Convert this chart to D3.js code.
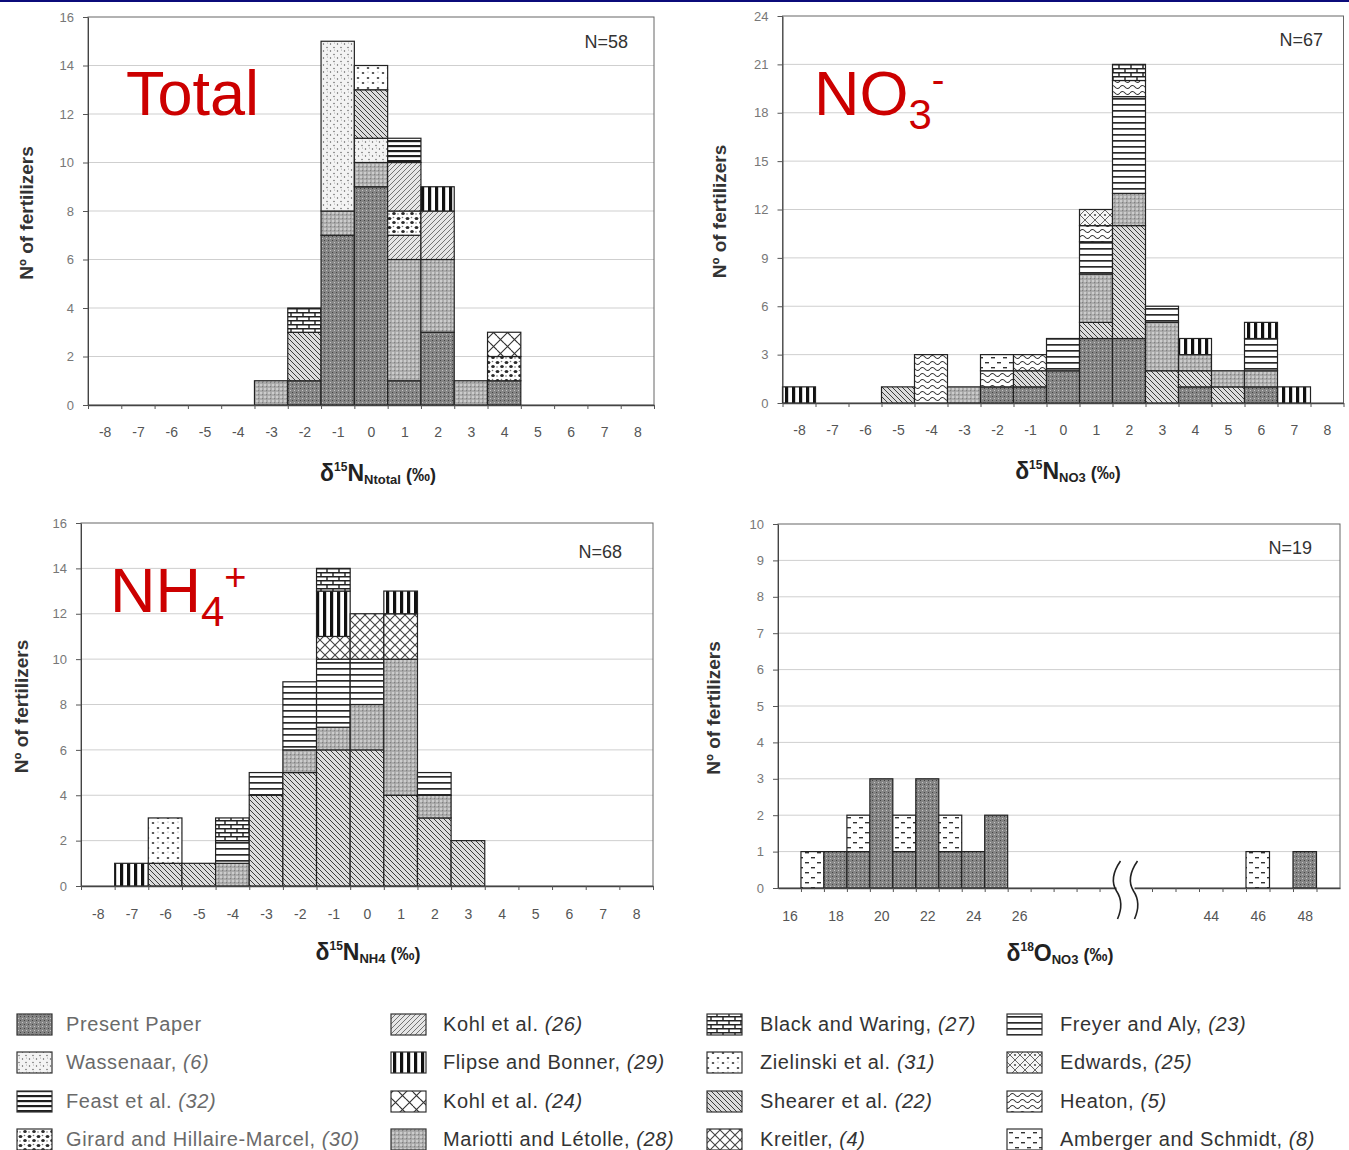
<!DOCTYPE html>
<html>
<head>
<meta charset="utf-8">
<script src="https://cdn.jsdelivr.net/npm/d3@7"></script>
<style>
  body { margin: 0; background: #fff; }
  svg { display: block; font-family: "Liberation Sans", Arial, sans-serif; }
</style>
</head>
<body>
<svg id="chart" width="1349" height="1150"></svg>
<script>
// bins of the three delta15N histograms
var binsN = d3.range(-8, 9);

// sources, in legend order (column by column)
var sourceKeys = ["present", "wassenaar", "feast", "girard",
                  "kohl26", "flipse", "kohl24", "mariotti",
                  "black", "zielinski", "shearer", "kreitler",
                  "freyer", "edwards", "heaton", "amberger"];
var sourceNames = ["Present Paper", "Wassenaar, ", "Feast et al. ", "Girard and Hillaire-Marcel, ",
                   "Kohl et al. ", "Flipse and Bonner, ", "Kohl et al. ", "Mariotti and Létolle, ",
                   "Black and Waring, ", "Zielinski et al. ", "Shearer et al. ", "Kreitler, ",
                   "Freyer and Aly, ", "Edwards, ", "Heaton, ", "Amberger and Schmidt, "];
var sourceRefs = ["", "(6)", "(32)", "(30)",
                  "(26)", "(29)", "(24)", "(28)",
                  "(27)", "(31)", "(22)", "(4)",
                  "(23)", "(25)", "(5)", "(8)"];

// [bin, source, count], stacked bottom to top
var totalRows = [
  [-3, "mariotti", 1],
  [-2, "present", 1], [-2, "shearer", 2], [-2, "black", 1],
  [-1, "present", 7], [-1, "mariotti", 1], [-1, "wassenaar", 7],
  [0, "present", 9], [0, "mariotti", 1], [0, "wassenaar", 1], [0, "shearer", 2], [0, "zielinski", 1],
  [1, "present", 1], [1, "mariotti", 5], [1, "kohl26", 1], [1, "girard", 1], [1, "kohl26", 2], [1, "feast", 1],
  [2, "present", 3], [2, "mariotti", 3], [2, "kohl26", 2], [2, "flipse", 1],
  [3, "mariotti", 1],
  [4, "present", 1], [4, "girard", 1], [4, "kohl24", 1]
];

var no3Rows = [
  [-8, "flipse", 1],
  [-5, "shearer", 1],
  [-4, "heaton", 3],
  [-3, "mariotti", 1],
  [-2, "present", 1], [-2, "heaton", 1], [-2, "amberger", 1],
  [-1, "present", 1], [-1, "shearer", 1], [-1, "heaton", 1],
  [0, "present", 2], [0, "freyer", 2],
  [1, "present", 4], [1, "shearer", 1], [1, "mariotti", 3], [1, "freyer", 2], [1, "heaton", 1], [1, "edwards", 1],
  [2, "present", 4], [2, "shearer", 7], [2, "mariotti", 2], [2, "freyer", 6], [2, "heaton", 1], [2, "black", 1],
  [3, "shearer", 2], [3, "mariotti", 3], [3, "freyer", 1],
  [4, "present", 1], [4, "shearer", 1], [4, "mariotti", 1], [4, "flipse", 1],
  [5, "shearer", 1], [5, "mariotti", 1],
  [6, "present", 1], [6, "mariotti", 1], [6, "freyer", 2], [6, "flipse", 1],
  [7, "flipse", 1]
];

var nh4Rows = [
  [-7, "flipse", 1],
  [-6, "shearer", 1], [-6, "zielinski", 2],
  [-5, "shearer", 1],
  [-4, "mariotti", 1], [-4, "freyer", 1], [-4, "black", 1],
  [-3, "shearer", 4], [-3, "freyer", 1],
  [-2, "shearer", 5], [-2, "mariotti", 1], [-2, "freyer", 3],
  [-1, "shearer", 6], [-1, "mariotti", 1], [-1, "freyer", 3], [-1, "kreitler", 1], [-1, "flipse", 2], [-1, "black", 1],
  [0, "shearer", 6], [0, "mariotti", 2], [0, "freyer", 2], [0, "kreitler", 2],
  [1, "shearer", 4], [1, "mariotti", 6], [1, "kreitler", 2], [1, "flipse", 1],
  [2, "shearer", 3], [2, "mariotti", 1], [2, "freyer", 1],
  [3, "shearer", 2]
];

var o18Rows = [
  [17, "amberger", 1],
  [18, "present", 1],
  [19, "present", 1], [19, "amberger", 1],
  [20, "present", 3],
  [21, "present", 1], [21, "amberger", 1],
  [22, "present", 3],
  [23, "present", 1], [23, "amberger", 1],
  [24, "present", 1],
  [25, "present", 2],
  [46, "amberger", 1],
  [48, "present", 1]
];
var o18Ticks = [16, 18, 20, 22, 24, 26, 44, 46, 48];

var svg = d3.select("#chart");

// thin navy rule at the very top
svg.append("rect").attr("width", 1349).attr("height", 2).attr("fill", "#0b0b7a");

// ---------- fill patterns ----------
var defs = svg.append("defs");
function pat(id, w, h, bg) {
  var p = defs.append("pattern").attr("id", "p-" + id)
    .attr("patternUnits", "userSpaceOnUse").attr("width", w).attr("height", h);
  p.append("rect").attr("width", w).attr("height", h).attr("fill", bg);
  return p;
}
var p;
p = pat("present", 4, 4, "#858585");
p.append("rect").attr("width", 1).attr("height", 1).attr("fill", "#444");
p.append("rect").attr("x", 2).attr("y", 2).attr("width", 1).attr("height", 1).attr("fill", "#c4c4c4");

p = pat("wassenaar", 7, 7, "#f3f3f3");
p.append("circle").attr("cx", 1.5).attr("cy", 2).attr("r", 0.7).attr("fill", "#555");
p.append("circle").attr("cx", 5).attr("cy", 5.5).attr("r", 0.7).attr("fill", "#555");
p.append("circle").attr("cx", 5.5).attr("cy", 1).attr("r", 0.5).attr("fill", "#999");

p = pat("feast", 5, 5, "#fff");
p.append("rect").attr("width", 5).attr("height", 2.2).attr("fill", "#1e1e1e");

p = pat("girard", 9, 9, "#fff");
p.append("ellipse").attr("cx", 2.5).attr("cy", 2.5).attr("rx", 1.9).attr("ry", 1.5).attr("fill", "#2a2a2a");
p.append("ellipse").attr("cx", 7).attr("cy", 6.5).attr("rx", 1.8).attr("ry", 1.5).attr("fill", "#2a2a2a");
p.append("circle").attr("cx", 6.5).attr("cy", 1.5).attr("r", 0.8).attr("fill", "#777");
p.append("circle").attr("cx", 2).attr("cy", 7).attr("r", 0.8).attr("fill", "#777");

p = pat("kohl26", 5, 5, "#e6e6e6");
p.append("path").attr("d", "M0,5L5,0M-1,1L1,-1M4,6L6,4").attr("stroke", "#666").attr("stroke-width", 0.9);

p = pat("flipse", 7, 7, "#fff");
p.append("rect").attr("x", 1).attr("width", 3.2).attr("height", 7).attr("fill", "#111");

p = pat("kohl24", 14, 14, "#fff");
p.append("path").attr("d", "M0,14L14,0M-1,1L1,-1M13,15L15,13M0,7L7,14M7,0L14,7")
  .attr("stroke", "#333").attr("stroke-width", 1.1).attr("fill", "none");

p = pat("mariotti", 4, 4, "#acacac");
p.append("rect").attr("x", 0.3).attr("y", 0.3).attr("width", 1.4).attr("height", 1.4).attr("fill", "#eee");
p.append("rect").attr("x", 2.2).attr("y", 2.2).attr("width", 1).attr("height", 1).attr("fill", "#666");

p = pat("black", 12, 8, "#fff");
p.append("path").attr("d", "M0,0.7H12M0,4.7H12M3,0.7V4.7M9,4.7V8.7M9,-3.3V0.7")
  .attr("stroke", "#222").attr("stroke-width", 1.4).attr("fill", "none");

p = pat("zielinski", 10, 10, "#fff");
p.append("ellipse").attr("cx", 3).attr("cy", 3).attr("rx", 1.3).attr("ry", 1).attr("fill", "#444");
p.append("ellipse").attr("cx", 8).attr("cy", 8).attr("rx", 1.3).attr("ry", 1).attr("fill", "#444");
p.append("circle").attr("cx", 8).attr("cy", 2).attr("r", 0.6).attr("fill", "#888");

p = pat("shearer", 5, 5, "#dcdcdc");
p.append("path").attr("d", "M0,0L5,5M-1,4L1,6M4,-1L6,1").attr("stroke", "#3c3c3c").attr("stroke-width", 1);

p = pat("kreitler", 10, 10, "#fff");
p.append("path").attr("d", "M0,0L10,10M10,0L0,10").attr("stroke", "#444").attr("stroke-width", 1.1);

p = pat("freyer", 6, 6, "#fff");
p.append("rect").attr("y", 2).attr("width", 6).attr("height", 1.7).attr("fill", "#2a2a2a");

p = pat("edwards", 10, 10, "#f6f6f6");
p.append("path").attr("d", "M5,0L10,5L5,10L0,5Z").attr("stroke", "#555").attr("stroke-width", 0.9).attr("fill", "none");
p.append("circle").attr("cx", 5).attr("cy", 5).attr("r", 1.1).attr("fill", "#555");

p = pat("heaton", 10, 6, "#fff");
p.append("path").attr("d", "M0,3Q2.5,0 5,3T10,3").attr("stroke", "#333").attr("stroke-width", 1.1).attr("fill", "none");

p = pat("amberger", 12, 10, "#fff");
p.append("rect").attr("x", 1).attr("y", 2).attr("width", 4).attr("height", 1.4).attr("fill", "#333");
p.append("rect").attr("x", 7).attr("y", 7).attr("width", 4).attr("height", 1.4).attr("fill", "#333");

// ---------- helpers ----------
function stack(rows) {
  var acc = new Map();
  return rows.map(function(r) {
    var b = acc.get(r[0]) || 0;
    acc.set(r[0], b + r[2]);
    return { bin: r[0], src: r[1], y0: b, y1: b + r[2] };
  });
}

function styleAxis(g, size, color) {
  g.attr("font-family", null).attr("font-size", null);
  g.selectAll("text").attr("font-size", size).attr("fill", color);
  g.selectAll("line").attr("stroke", "#555");
}

function drawPanel(o) {
  var g = svg.append("g");
  var y = d3.scaleLinear().domain([0, o.yMax]).range([o.bottom, o.top]);

  // grid
  g.selectAll("line.grid").data(o.yTicks.filter(function(d) { return d > 0 && d < o.yMax; }))
    .join("line").attr("class", "grid")
    .attr("x1", o.left).attr("x2", o.right)
    .attr("y1", function(d) { return y(d); }).attr("y2", function(d) { return y(d); })
    .attr("stroke", "#cfcfcf").attr("stroke-width", 1);

  // frame
  g.append("rect").attr("x", o.left).attr("y", o.top)
    .attr("width", o.right - o.left).attr("height", o.bottom - o.top)
    .attr("fill", "none").attr("stroke", "#666").attr("stroke-width", 1);

  // bars
  g.selectAll("rect.seg").data(stack(o.rows)).join("rect").attr("class", "seg")
    .attr("x", function(d) { return o.barL(d.bin); })
    .attr("width", function(d) { return o.barR(d.bin) - o.barL(d.bin); })
    .attr("y", function(d) { return y(d.y1); })
    .attr("height", function(d) { return y(d.y0) - y(d.y1); })
    .attr("fill", function(d) { return "url(#p-" + d.src + ")"; })
    .attr("stroke", "#222").attr("stroke-width", 1.2);

  // y axis
  var ya = g.append("g").attr("transform", "translate(" + o.left + ",0)")
    .call(d3.axisLeft(y).tickValues(o.yTicks).tickSize(5).tickPadding(9).tickSizeOuter(0));
  ya.select(".domain").attr("stroke", "#444");
  styleAxis(ya, 13, "#777");

  // x axis: tick marks on bin edges
  var xe = g.append("g").attr("transform", "translate(0," + o.bottom + ")")
    .call(d3.axisBottom(o.edgeScale).tickValues(o.edgeTicks).tickSize(4).tickSizeOuter(0).tickFormat(""));
  xe.select(".domain").attr("stroke", "#444").attr("stroke-width", 1.3);
  styleAxis(xe, 12, "#555");

  // x axis: labels
  var xl = g.append("g").attr("transform", "translate(0," + o.bottom + ")")
    .call(d3.axisBottom(o.labelScale).tickValues(o.labelTicks).tickSize(0).tickPadding(o.labelPad)
      .tickFormat(function(d) { return String(d); }));
  xl.select(".domain").remove();
  styleAxis(xl, 14, "#555");

  // N=
  g.append("text").attr("x", o.nx).attr("y", o.ny).attr("text-anchor", "end")
    .attr("font-size", 18).attr("fill", "#333").text(o.n);

  // y title
  g.append("text").attr("transform", "translate(" + o.yTitleX + "," + ((o.top + o.bottom) / 2 + 2) + ") rotate(-90)")
    .attr("text-anchor", "middle").attr("font-size", 19).attr("font-weight", "bold").attr("fill", "#333")
    .text("Nº of fertilizers");

  // x title
  var t = g.append("text").attr("x", o.xTitleX).attr("y", o.xTitleY).attr("text-anchor", "middle")
    .attr("font-weight", "bold").attr("fill", "#222").attr("font-size", 23);
  t.append("tspan").text("δ");
  t.append("tspan").attr("font-size", 12).attr("dy", -10).text(o.iso);
  t.append("tspan").attr("font-size", 23).attr("dy", 10).text(o.elem);
  t.append("tspan").attr("font-size", 13).attr("dy", 3).text(o.sub);
  t.append("tspan").attr("font-size", 18).attr("dy", -3).text(" (‰)");

  return g;
}

function bandPanel(rows, left, right) {
  var x = d3.scaleBand().domain(binsN).range([left, right]).padding(0);
  var e = d3.scaleLinear().domain([-8.5, 8.5]).range([left, right]);
  return {
    rows: rows, left: left, right: right,
    barL: function(b) { return x(b); },
    barR: function(b) { return x(b) + x.bandwidth(); },
    edgeScale: e, edgeTicks: d3.range(-8.5, 9, 1),
    labelScale: e, labelTicks: binsN
  };
}

// ---------- panels ----------
var pTotal = bandPanel(totalRows, 88, 654);
Object.assign(pTotal, { top: 17, bottom: 405, yMax: 16, yTicks: d3.range(0, 17, 2), labelPad: 22,
  n: "N=58", nx: 628, ny: 48, yTitleX: 33, xTitleX: 378, xTitleY: 481,
  iso: "15", elem: "N", sub: "Ntotal" });
drawPanel(pTotal);

var pNo3 = bandPanel(no3Rows, 782.5, 1343.5);
Object.assign(pNo3, { top: 16, bottom: 403, yMax: 24, yTicks: d3.range(0, 25, 3), labelPad: 22,
  n: "N=67", nx: 1323, ny: 46, yTitleX: 726, xTitleX: 1068, xTitleY: 479,
  iso: "15", elem: "N", sub: "NO3" });
drawPanel(pNo3);

var pNh4 = bandPanel(nh4Rows, 81, 653);
Object.assign(pNh4, { top: 523, bottom: 886, yMax: 16, yTicks: d3.range(0, 17, 2), labelPad: 23,
  n: "N=68", nx: 622, ny: 558, yTitleX: 28, xTitleX: 368, xTitleY: 960,
  iso: "15", elem: "N", sub: "NH4" });
drawPanel(pNh4);

// broken axis for delta18O
var xo = d3.scaleLinear().domain([15.5, 30.5, 40.5, 49.5]).range([778, 1122.5, 1128.5, 1340]);
var pO18 = {
  rows: o18Rows, left: 778, right: 1340, top: 524, bottom: 888, yMax: 10, yTicks: d3.range(0, 11, 1),
  barL: function(b) { return xo(b - 0.5); },
  barR: function(b) { return xo(b + 0.5); },
  edgeScale: xo, edgeTicks: d3.range(16.5, 30, 1).concat(d3.range(41.5, 49, 1)),
  labelScale: xo, labelTicks: o18Ticks, labelPad: 23,
  n: "N=19", nx: 1312, ny: 554, yTitleX: 720, xTitleX: 1060, xTitleY: 961,
  iso: "18", elem: "O", sub: "NO3"
};
var gO = drawPanel(pO18);

// axis break marks
var bx = (xo(30.5) + xo(40.5)) / 2;
gO.append("rect").attr("x", bx - 9).attr("y", pO18.bottom - 3).attr("width", 18).attr("height", 6).attr("fill", "#fff");
[-8, 9].forEach(function(dx) {
  var cx = bx + dx;
  gO.append("path")
    .attr("d", "M" + (cx + 3) + "," + (pO18.bottom - 27) +
      "C" + (cx - 6) + "," + (pO18.bottom - 14) + " " + (cx - 6) + "," + (pO18.bottom - 5) + " " + (cx - 1) + "," + (pO18.bottom + 3) +
      "C" + (cx + 5) + "," + (pO18.bottom + 12) + " " + (cx + 4) + "," + (pO18.bottom + 22) + " " + (cx) + "," + (pO18.bottom + 31))
    .attr("fill", "none").attr("stroke", "#222").attr("stroke-width", 1.6);
});

// ---------- red panel labels ----------
function bigLabel(x, y, main, sub, sup) {
  var t = svg.append("text").attr("x", x).attr("y", y).attr("fill", "#cc0000").attr("font-size", 63);
  t.append("tspan").text(main);
  if (sub) t.append("tspan").attr("font-size", 42).attr("dy", 14).text(sub);
  if (sup) t.append("tspan").attr("font-size", 38).attr("dy", -36).text(sup);
}
bigLabel(126, 115, "Total");
bigLabel(814, 115, "NO", "3", "-");
bigLabel(110, 612, "NH", "4", "+");

// ---------- legend ----------
var legX = [17, 391, 707, 1007];
var legTextX = [66, 443, 760, 1060];
var legY = [1024, 1062, 1101, 1139];
var leg = svg.append("g");
sourceKeys.forEach(function(k, i) {
  var c = Math.floor(i / 4), r = i % 4;
  leg.append("rect").attr("x", legX[c]).attr("y", legY[r] - 10).attr("width", 35).attr("height", 21)
    .attr("fill", "url(#p-" + k + ")").attr("stroke", "#333").attr("stroke-width", 1.2);
  var t = leg.append("text").attr("x", legTextX[c]).attr("y", legY[r] + 7)
    .attr("font-size", 20).attr("letter-spacing", 0.6).attr("fill", c === 0 ? "#6a6a6a" : "#333");
  t.append("tspan").text(sourceNames[i]);
  t.append("tspan").attr("font-style", "italic").text(sourceRefs[i]);
});
</script>
</body>
</html>
